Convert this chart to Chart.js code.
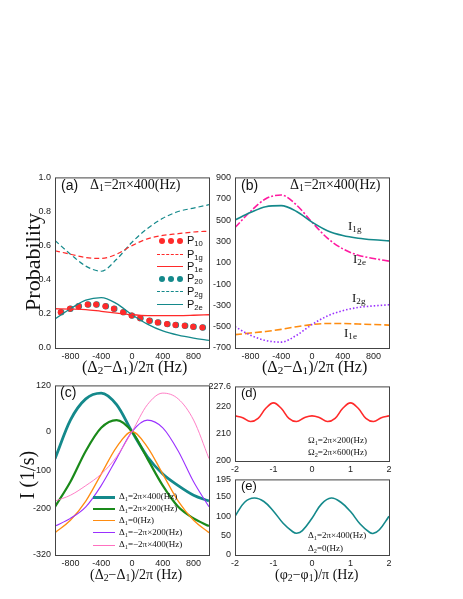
<!DOCTYPE html>
<html>
<head>
<meta charset="UTF-8">
<script src="https://cdn.jsdelivr.net/npm/chart.js"></script>
<style>
  body { margin: 0; background: #fff; width: 463px; height: 599px; position: relative; overflow: hidden; }
  .box { position: absolute; }
  .t { position: absolute; white-space: nowrap; color: #111; font-family: "Liberation Serif", serif; line-height: 1; }
  .s { font-family: "Liberation Sans", Arial, sans-serif; }
  sub { font-size: 70%; vertical-align: -2px; }
  .lg { position: absolute; height: 0; }
  .dot { position: absolute; width: 6px; height: 6px; border-radius: 50%; top: -3px; }
</style>
</head>
<body>
<div class="box" id="wa"><canvas id="ca"></canvas></div>
<div class="box" id="wb"><canvas id="cb"></canvas></div>
<div class="box" id="wc"><canvas id="cc"></canvas></div>
<div class="box" id="wd"><canvas id="cd"></canvas></div>
<div class="box" id="we"><canvas id="ce"></canvas></div>

<!-- texts -->
<div class="t s" style="left:61px;top:178px;font-size:14px">(a)</div>
<div class="t" style="left:90px;top:178px;font-size:14px">Δ<sub>1</sub>=2π×400(Hz)</div>
<div class="t s" style="left:241px;top:178px;font-size:14px">(b)</div>
<div class="t" style="left:290px;top:178px;font-size:14px">Δ<sub>1</sub>=2π×400(Hz)</div>
<div class="t" style="left:348px;top:219px;font-size:13px">I<sub>1g</sub></div>
<div class="t" style="left:353px;top:252px;font-size:13px">I<sub>2e</sub></div>
<div class="t" style="left:352px;top:291px;font-size:13px">I<sub>2g</sub></div>
<div class="t" style="left:344px;top:326px;font-size:13px">I<sub>1e</sub></div>
<div class="t" style="left:82px;top:359px;font-size:16px">(Δ<sub>2</sub>−Δ<sub>1</sub>)/2π (Hz)</div>
<div class="t" style="left:262px;top:359px;font-size:16px">(Δ<sub>2</sub>−Δ<sub>1</sub>)/2π (Hz)</div>
<div class="t" style="left:90px;top:568px;font-size:14px">(Δ<sub>2</sub>−Δ<sub>1</sub>)/2π (Hz)</div>
<div class="t" style="left:275px;top:568px;font-size:14px">(φ<sub>2</sub>−φ<sub>1</sub>)/π (Hz)</div>
<div class="t" style="left:33px;top:262px;font-size:22px;transform:translate(-50%,-50%) rotate(-90deg)">Probability</div>
<div class="t" style="left:27px;top:475px;font-size:20px;transform:translate(-50%,-50%) rotate(-90deg)">I (1/s)</div>
<div class="t s" style="left:60px;top:385px;font-size:14px">(c)</div>
<div class="t s" style="left:241px;top:386px;font-size:13px">(d)</div>
<div class="t s" style="left:241px;top:479px;font-size:13px">(e)</div>
<div class="t" style="left:308px;top:436px;font-size:9px">Ω<sub>1</sub>=2π×200(Hz)</div>
<div class="t" style="left:308px;top:448px;font-size:9px">Ω<sub>2</sub>=2π×600(Hz)</div>
<div class="t" style="left:308px;top:531px;font-size:9px">Δ<sub>1</sub>=2π×400(Hz)</div>
<div class="t" style="left:308px;top:544px;font-size:9px">Δ<sub>2</sub>=0(Hz)</div>
<div id="legA"></div>
<div id="legC"></div>

<script>
// ---- data ----
const detune = [-1000, -800, -600, -400, -200, 0, 200, 400, 600, 800, 1000];
const P1g = [0.57, 0.55, 0.53, 0.525, 0.55, 0.60, 0.64, 0.66, 0.67, 0.68, 0.685];
const P2g = [0.63, 0.55, 0.48, 0.45, 0.52, 0.62, 0.70, 0.76, 0.80, 0.82, 0.84];
const P1e = [0.23, 0.228, 0.225, 0.215, 0.205, 0.195, 0.19, 0.19, 0.19, 0.192, 0.195];
const P2e = [0.17, 0.23, 0.28, 0.295, 0.26, 0.195, 0.14, 0.10, 0.075, 0.058, 0.045];
const dotX = [-920, -800, -690, -570, -460, -340, -230, -110, 0, 110, 230, 340, 460, 570, 690, 800, 920];
const P10 = [0.21, 0.23, 0.245, 0.255, 0.255, 0.245, 0.23, 0.21, 0.19, 0.175, 0.16, 0.15, 0.14, 0.135, 0.13, 0.125, 0.12];
const P20 = [0.21, 0.23, 0.245, 0.255, 0.255, 0.245, 0.23, 0.21, 0.19, 0.175, 0.16, 0.15, 0.14, 0.135, 0.13, 0.125, 0.12];

const I1g = [500, 570, 625, 635, 580, 480, 400, 355, 330, 315, 305];
const I2e = [430, 580, 700, 735, 640, 480, 330, 230, 170, 140, 115];
const I2g = [-500, -580, -630, -645, -580, -480, -400, -350, -320, -305, -295];
const I1e = [-575, -560, -545, -525, -500, -480, -470, -470, -475, -480, -485];

const Ip400 = [-70, 30, 85, 100, 70, 0, -65, -110, -140, -165, -180];
const Ip200 = [-195, -130, -50, 10, 30, 0, -70, -140, -195, -225, -245];
const I0 = [-262, -230, -180, -110, -40, 0, -40, -110, -180, -230, -262];
const Im200 = [-245, -225, -195, -140, -70, 0, 30, 10, -50, -130, -195];
const Im400 = [-180, -165, -140, -110, -65, 0, 70, 100, 85, 30, -70];

const phaseD = [-2, -1.8, -1.6, -1.4, -1.2, -1, -0.8, -0.6, -0.4, -0.2, 0, 0.2, 0.4, 0.6, 0.8, 1, 1.2, 1.4, 1.6, 1.8, 2];
const Id = [216.7, 216, 214.6, 215.8, 219.5, 221.5, 219.5, 215.8, 214.6, 216, 216.7, 216, 214.6, 215.8, 219.5, 221.5, 219.5, 215.8, 214.6, 216, 216.7];
const phaseE = [-2, -1.75, -1.5, -1.25, -1, -0.75, -0.5, -0.4, -0.25, 0, 0.25, 0.5, 0.75, 1, 1.25, 1.5, 1.6, 1.75, 2];
const Ie = [100, 136, 147, 138, 113, 82, 60, 56, 63, 95, 132, 147, 136, 112, 80, 58, 56, 65, 100];

const detTicks = [-800, -400, 0, 400, 800];
const phaseTicks = [-2, -1, 0, 1, 2];

// ---- helpers ----
const TEAL = '#14898b', RED = '#ff2a2a';
const pts = (xs, ys) => xs.map((x, i) => ({ x, y: ys[i] }));
const YW = 36, XH = 16, PT = 4, PR = 10;

const frame = {
  id: 'frame',
  afterDraw(c) {
    const a = c.chartArea, g = c.ctx;
    g.save(); g.strokeStyle = '#444'; g.lineWidth = 1;
    g.strokeRect(a.left + 0.5, a.top + 0.5, a.right - a.left, a.bottom - a.top);
    g.restore();
  }
};

function panel(id, wrap, left, top, w, h, datasets, xr, xt, yr, ystep) {
  const el = document.getElementById(wrap);
  el.style.left = (left - YW) + 'px';
  el.style.top = (top - PT) + 'px';
  el.style.width = (w + YW + PR) + 'px';
  el.style.height = (h + PT + XH) + 'px';
  new Chart(document.getElementById(id), {
    type: 'line',
    data: { datasets },
    options: {
      responsive: true, maintainAspectRatio: false, animation: false,
      layout: { padding: { top: PT, right: PR, left: 0, bottom: 0 } },
      plugins: { legend: { display: false }, tooltip: { enabled: false } },
      elements: { point: { radius: 0 }, line: { tension: 0.4, cubicInterpolationMode: 'monotone' } },
      scales: {
        x: {
          type: 'linear', min: xr[0], max: xr[1],
          grid: { display: false, drawTicks: false }, border: { display: false },
          afterBuildTicks: s => { s.ticks = xt.map(v => ({ value: v })); },
          afterFit: s => { s.height = XH; },
          ticks: { color: '#222', font: { family: 'Liberation Sans', size: 9 }, padding: 3, maxRotation: 0 }
        },
        y: {
          min: yr[0], max: yr[1],
          grid: { display: false, drawTicks: false }, border: { display: false },
          afterFit: s => { s.width = YW; },
          ticks: {
            stepSize: ystep, color: '#222', font: { family: 'Liberation Sans', size: 9 }, padding: 4,
            callback: v => (ystep < 1 ? v.toFixed(1) : v)
          }
        }
      }
    },
    plugins: [frame]
  });
}

function line(data, color, width, dash, extra) {
  return Object.assign({ data, borderColor: color, borderWidth: width, borderDash: dash || [], fill: false, pointRadius: 0 }, extra || {});
}

// (a)
panel('ca', 'wa', 55, 172, 154, 176, [
  line(pts(detune, P1g), RED, 1.2, [5, 3]),
  line(pts(detune, P2g), TEAL, 1.2, [5, 3]),
  line(pts(detune, P1e), RED, 1.3),
  line(pts(detune, P2e), TEAL, 1.3),
  { data: pts(dotX.map(x => x - 6), P10), showLine: false, pointRadius: 3, pointBackgroundColor: RED, pointBorderWidth: 0 },
  { data: pts(dotX, P20), showLine: false, pointRadius: 3.2, pointBackgroundColor: TEAL, pointBorderWidth: 0 }
], [-1000, 1000], detTicks, [0, 1], 0.2);

// (b)
panel('cb', 'wb', 235, 172, 154, 176, [
  line(pts(detune, I1g), TEAL, 1.6),
  line(pts(detune, I2e), '#ff1aa0', 1.6, [7, 2, 2, 2]),
  line(pts(detune, I2g), '#9a30ff', 1.6, [1.5, 2]),
  line(pts(detune, I1e), '#ff8c10', 1.6, [7, 3])
], [-1000, 1000], detTicks, [-700, 900], 200);

// (c)
panel('cc', 'wc', 55, 380, 154, 175, [
  line(pts(detune, Im400), '#ff70c0', 0.9),
  line(pts(detune, Im200), '#9a30ff', 1.1),
  line(pts(detune, I0), '#ff8c10', 1.3),
  line(pts(detune, Ip200), '#1a8a1a', 2.2),
  line(pts(detune, Ip400), TEAL, 2.8)
], [-1000, 1000], detTicks, [-320, 120], 100);

// (d)
panel('cd', 'wd', 235, 381, 154, 80, [
  line(pts(phaseD, Id), RED, 1.6, [], { tension: 0.4, cubicInterpolationMode: 'default' })
], [-2, 2], phaseTicks, [200, 227.6], 10);

// (e)
panel('ce', 'we', 235, 474, 154, 81, [
  line(pts(phaseE, Ie), TEAL, 1.6, [], { tension: 0.4, cubicInterpolationMode: 'default' })
], [-2, 2], phaseTicks, [0, 195], 50);

// legends (HTML)
function legRow(host, x, y, len, color, style, label, fs) {
  const d = document.createElement('div');
  d.className = 'lg';
  d.style.left = x + 'px'; d.style.top = y + 'px'; d.style.width = len + 'px';
  if (style === 'dots') {
    [0, 9, 18].forEach(o => {
      const s = document.createElement('div'); s.className = 'dot';
      s.style.left = (o + 2) + 'px'; s.style.background = color; d.appendChild(s);
    });
  } else {
    d.style.borderTop = style.w + 'px ' + style.t + ' ' + color;
    d.style.marginTop = (-style.w / 2) + 'px';
  }
  host.appendChild(d);
  const t = document.createElement('div');
  t.className = 't' + (fs > 10 ? ' s' : '');
  t.style.left = (x + len + 4) + 'px'; t.style.top = (y - fs / 2 - 1) + 'px'; t.style.fontSize = fs + 'px';
  t.innerHTML = label;
  host.appendChild(t);
}
const la = document.getElementById('legA');
legRow(la, 157, 241, 26, RED, 'dots', 'P<sub>10</sub>', 11);
legRow(la, 157, 255, 26, RED, { w: 1.2, t: 'dashed' }, 'P<sub>1g</sub>', 11);
legRow(la, 157, 267, 26, RED, { w: 1.3, t: 'solid' }, 'P<sub>1e</sub>', 11);
legRow(la, 157, 279, 26, TEAL, 'dots', 'P<sub>20</sub>', 11);
legRow(la, 157, 292, 26, TEAL, { w: 1.2, t: 'dashed' }, 'P<sub>2g</sub>', 11);
legRow(la, 157, 305, 26, TEAL, { w: 1.3, t: 'solid' }, 'P<sub>2e</sub>', 11);
const lc = document.getElementById('legC');
legRow(lc, 93, 497, 22, TEAL, { w: 3, t: 'solid' }, 'Δ<sub>1</sub>=2π×400(Hz)', 9);
legRow(lc, 93, 509, 22, '#1a8a1a', { w: 2.4, t: 'solid' }, 'Δ<sub>1</sub>=2π×200(Hz)', 9);
legRow(lc, 93, 521, 22, '#ff8c10', { w: 1.4, t: 'solid' }, 'Δ<sub>1</sub>=0(Hz)', 9);
legRow(lc, 93, 533, 22, '#9a30ff', { w: 1.2, t: 'solid' }, 'Δ<sub>1</sub>=−2π×200(Hz)', 9);
legRow(lc, 93, 545, 22, '#ff70c0', { w: 1, t: 'solid' }, 'Δ<sub>1</sub>=−2π×400(Hz)', 9);
</script>
</body>
</html>
